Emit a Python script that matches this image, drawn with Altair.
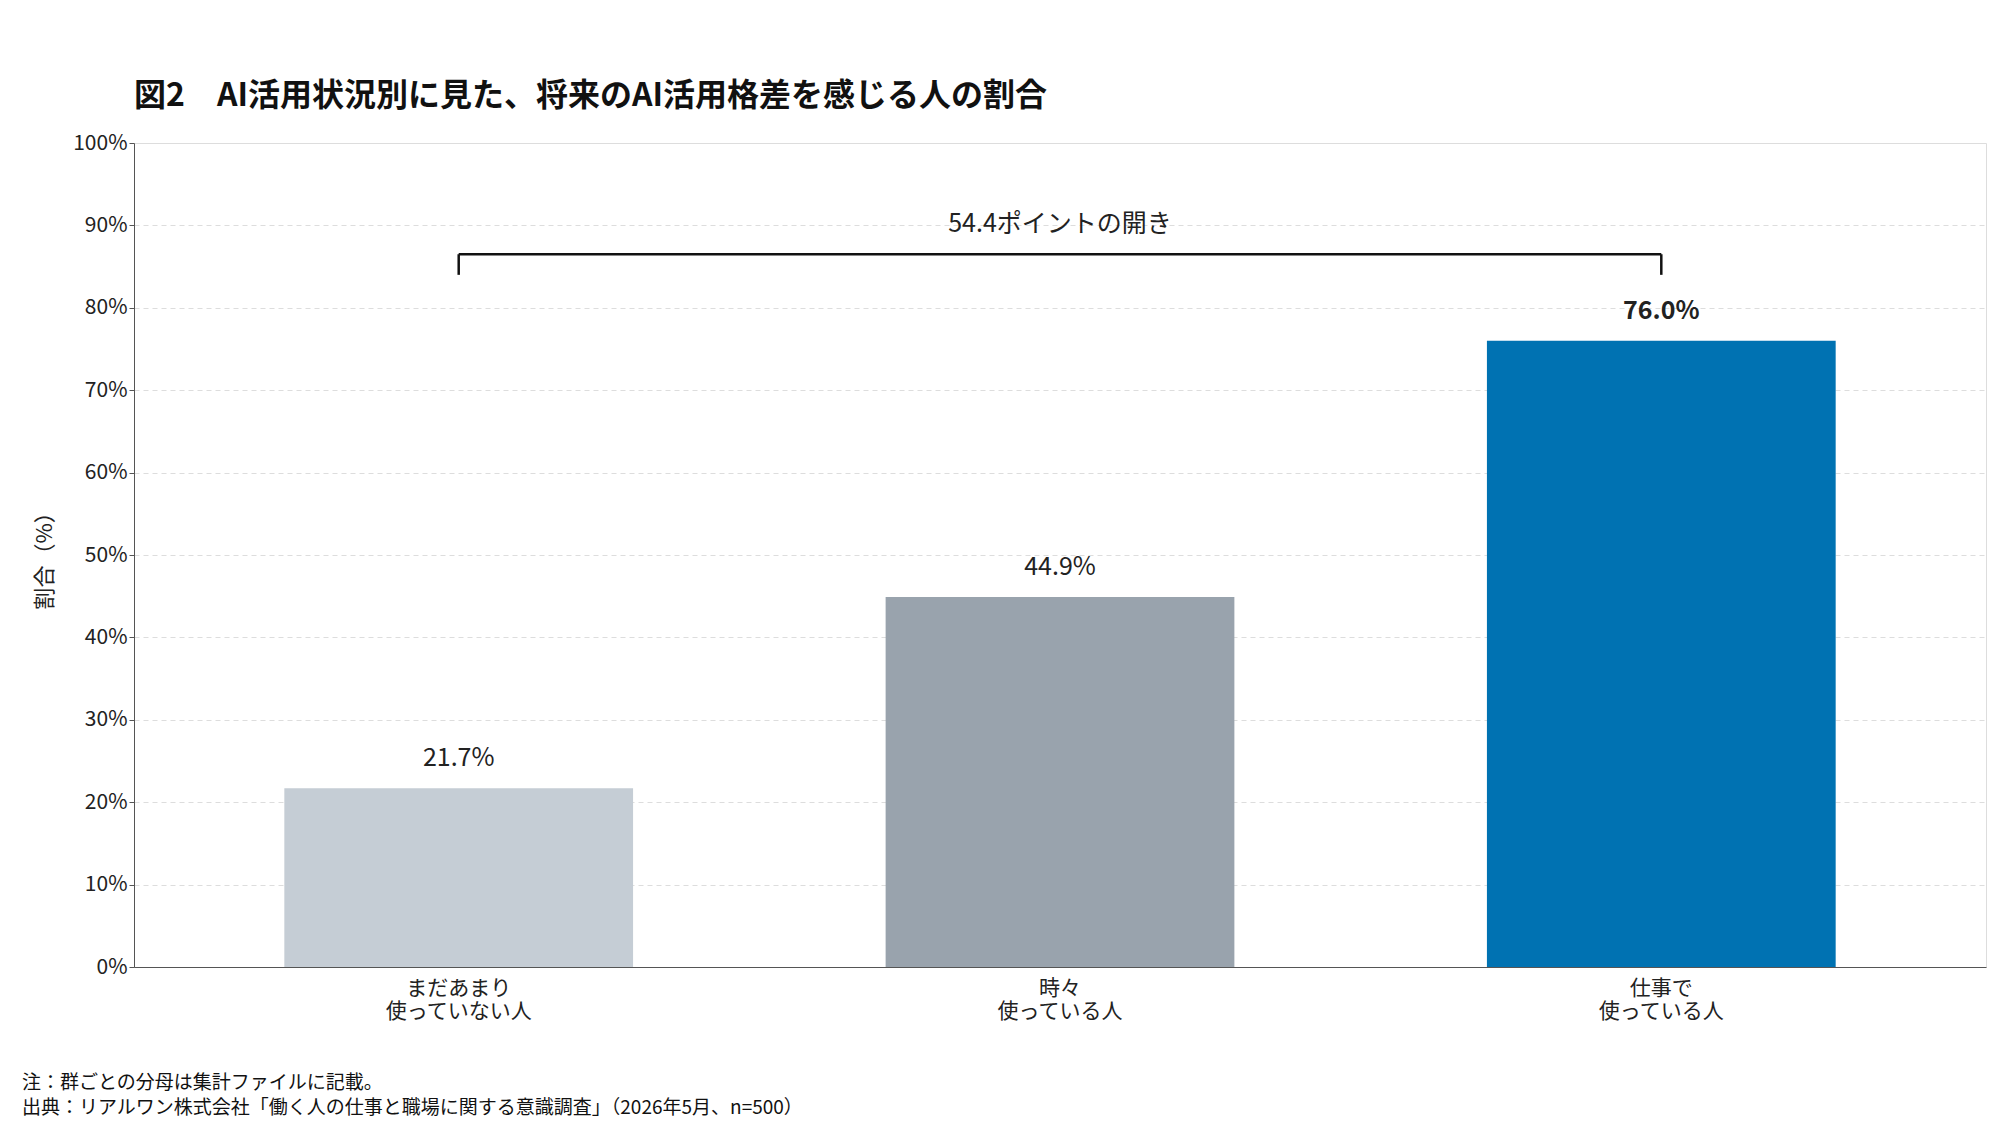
import altair as alt
import pandas as pd

FONT = "Noto Sans CJK JP"

groups = ["まだあまり\n使っていない人", "時々\n使っている人", "仕事で\n使っている人"]
values = [21.7, 44.9, 76.0]
colors = ["#c5cdd5", "#99a3ad", "#0072b2"]
labels = ["21.7%", "44.9%", "76.0%"]
weights = ["normal", "normal", "bold"]

title_text = "図2　AI活用状況別に見た、将来のAI活用格差を感じる人の割合"
gap_text = "54.4ポイントの開き"
bracket_y = 86.5
bracket_tick = 84.0
notes = ["注：群ごとの分母は集計ファイルに記載。",
         "出典：リアルワン株式会社「働く人の仕事と職場に関する意識調査」（2026年5月、n=500）"]

df = pd.DataFrame({"group": groups, "value": values, "color": colors,
                   "label": labels, "weight": weights})

xs = alt.Scale(domain=groups, paddingInner=0.42, paddingOuter=0.25)
x = alt.X("group:N", scale=xs, title=None,
          axis=alt.Axis(labelAngle=0, labelExpr="split(datum.label, '\\n')",
                        labelFontSize=21, labelColor="#222", labelPadding=10,
                        ticks=False, domainColor="#555"))
ys = alt.Scale(domain=[0, 100])

bars = alt.Chart(df).mark_bar().encode(
    x=x,
    y=alt.Y("value:Q", scale=ys, title="割合（%）",
            axis=alt.Axis(values=list(range(0, 101, 10)), labelExpr="datum.value + '%'",
                          labelFontSize=21, labelColor="#222", titleFontSize=22,
                          titleFontWeight="normal", titleColor="#222", titlePadding=16,
                          grid=True, gridDash=[5, 4], gridColor="#dddddd",
                          domainColor="#555", tickColor="#555")),
    color=alt.Color("color:N", scale=None),
)

text_n = alt.Chart(df[df.weight == "normal"]).mark_text(
    dy=-30, fontSize=25, font=FONT, color="#222").encode(
    x=alt.X("group:N", scale=xs), y=alt.Y("value:Q", scale=ys), text="label:N")
text_b = alt.Chart(df[df.weight == "bold"]).mark_text(
    dy=-30, fontSize=25, font=FONT, color="#222", fontWeight="bold").encode(
    x=alt.X("group:N", scale=xs), y=alt.Y("value:Q", scale=ys), text="label:N")

br = pd.DataFrame({"group": [groups[0]], "g2": [groups[2]], "value": [bracket_y],
                   "yt": [bracket_tick]})
hline = alt.Chart(br).mark_rule(color="#111", strokeWidth=2.5).encode(
    x=alt.X("group:N", scale=xs), x2="g2:N", y=alt.Y("value:Q", scale=ys))
lt = alt.Chart(br).mark_rule(color="#111", strokeWidth=2.5).encode(
    x=alt.X("group:N", scale=xs), y=alt.Y("value:Q", scale=ys), y2="yt:Q")
rt = alt.Chart(br).mark_rule(color="#111", strokeWidth=2.5).encode(
    x=alt.X("g2:N", scale=xs), y=alt.Y("value:Q", scale=ys), y2="yt:Q")
gd = pd.DataFrame({"group": [groups[1]], "value": [bracket_y], "t": [gap_text]})
gtext = alt.Chart(gd).mark_text(fontSize=25, font=FONT, color="#222", dy=-30).encode(
    x=alt.X("group:N", scale=xs), y=alt.Y("value:Q", scale=ys), text="t:N")

def fixed_text(t, px, py, size, weight="normal"):
    return alt.Chart(pd.DataFrame({"t": [t]})).mark_text(
        align="left", baseline="middle", fontSize=size, font=FONT, color="#111",
        fontWeight=weight).encode(x=alt.value(px), y=alt.value(py), text="t:N")

title = fixed_text(title_text, 0, -47, 32, "bold")
foot1 = fixed_text(notes[0], -112, 940, 19)
foot2 = fixed_text(notes[1], -112, 965, 19)

chart = alt.layer(bars, text_n, text_b, hline, lt, rt, gtext, title, foot1, foot2).properties(
    width=1852, height=824,
    autosize=alt.AutoSizeParams(type="none"),
    padding={"left": 126, "top": 135, "right": 5, "bottom": 150},
).configure_view(stroke=None).configure(font=FONT)

chart.save("out.html", embed_options={"renderer": "svg", "actions": False})
